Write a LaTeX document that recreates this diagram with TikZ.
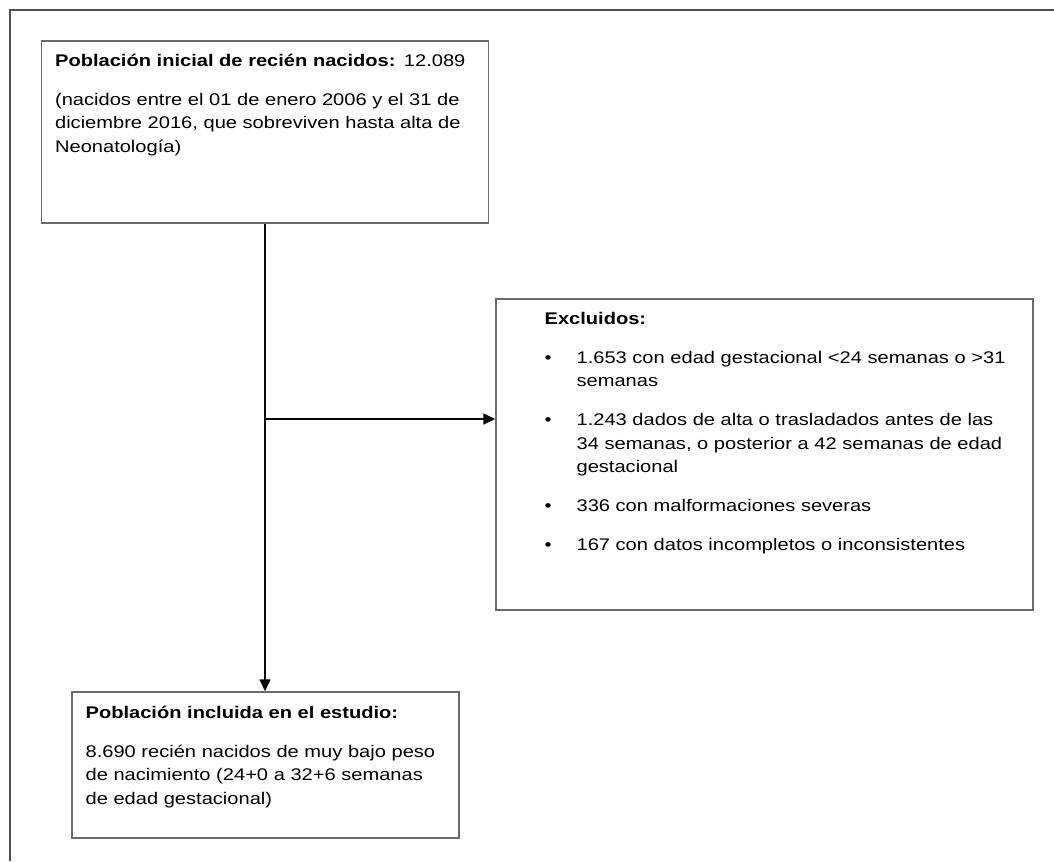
\documentclass[tikz,border=0pt]{standalone}
\usepackage{fontspec}
\setmainfont{Liberation Sans}[FakeStretch=1.19]
\usetikzlibrary{arrows.meta, positioning, calc}
\definecolor{frameline}{HTML}{505050}
\definecolor{boxborder}{HTML}{6A6A6A}
\definecolor{darkline}{HTML}{0A0A0A}
\tikzset{
  panel/.style={rectangle, draw=boxborder, line width=0.95pt, fill=white, inner sep=0pt},
  panelbody/.style={anchor=base west, inner sep=0pt, align=left, text width=#1,
                    font=\fontsize{12pt}{16.7pt}\selectfont},
  flow/.style={-{Triangle[length=3mm, width=2.7mm]}, line width=0.05cm, draw=darkline},
  outline/.style={draw=frameline, line width=1.4pt},
}
\newcommand{\exbullet}{\makebox[0.8cm][l]{\textbullet}}
\newcommand{\exindent}{\hspace*{0.8cm}}

\begin{document}
\begin{tikzpicture}
\useasboundingbox (0,0) rectangle (26.35,-21.525);

% Outer frame (cut off at the right and bottom)
\draw[outline] (26.35,-0.25) -- (0.25,-0.25) -- (0.25,-21.525);

% Initial population
\node[panel, minimum width=11.175cm, minimum height=4.55cm] (initial) at (6.625,-3.3) {};
\node[panelbody=10.6cm] (initialtext) at ($(initial.north west)+(0.35,-0.65)$)
  {\textbf{Población inicial de recién nacidos:} 12.089\\[11pt]
   (nacidos entre el 01 de enero 2006 y el 31 de\\
   diciembre 2016, que sobreviven hasta alta de\\
   Neonatología)};

% Exclusions
\node[panel, minimum width=13.425cm, minimum height=7.775cm] (excluded) at (19.1125,-11.3625) {};
\node[panelbody=12cm] (excludedtext) at ($(excluded.north west)+(1.225,-0.65)$)
  {\textbf{Excluidos:}\\[11pt]
   \exbullet 1.653 con edad gestacional <24 semanas o >31\\
   \exindent semanas\\[11pt]
   \exbullet 1.243 dados de alta o trasladados antes de las\\
   \exindent 34 semanas, o posterior a 42 semanas de edad\\
   \exindent gestacional\\[11pt]
   \exbullet 336 con malformaciones severas\\[11pt]
   \exbullet 167 con datos incompletos o inconsistentes};

% Study population
\node[panel, minimum width=9.675cm, minimum height=3.65cm] (included) at (6.6375,-19.125) {};
\node[panelbody=9.2cm] (includedtext) at ($(included.north west)+(0.35,-0.675)$)
  {\textbf{Población incluida en el estudio:}\\[11pt]
   8.690 recién nacidos de muy bajo peso\\
   de nacimiento (24+0 a 32+6 semanas\\
   de edad gestacional)};

% Flow
\coordinate (split) at (initial.south |- 0,-10.475);
\draw[flow] (initial.south) -- (initial.south |- included.north);
\draw[flow] (split) -- (split -| excluded.west);

\end{tikzpicture}
\end{document}
